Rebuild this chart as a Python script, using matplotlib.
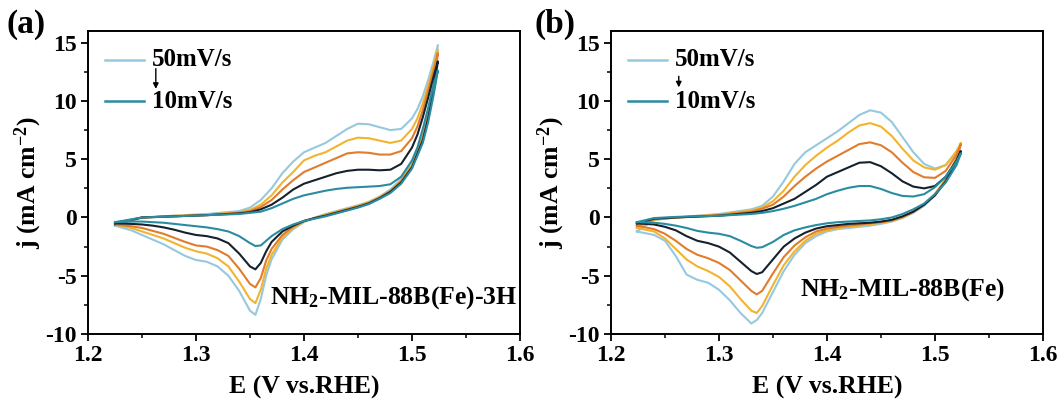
import numpy as np
import matplotlib
matplotlib.use("Agg")
import matplotlib.pyplot as plt

# ---- panel (a): NH2-MIL-88B(Fe)-3H ----
E_fwd_a = [1.225, 1.25, 1.28, 1.31, 1.34, 1.35, 1.36, 1.37, 1.38, 1.39, 1.40, 1.41, 1.42,
           1.43, 1.44, 1.45, 1.46, 1.47, 1.48, 1.49, 1.50, 1.505, 1.51, 1.515, 1.52, 1.524]
E_rev_a = [1.524, 1.52, 1.515, 1.51, 1.50, 1.49, 1.48, 1.47, 1.46, 1.45, 1.44, 1.43, 1.42,
           1.41, 1.40, 1.39, 1.38, 1.37, 1.365, 1.36, 1.355, 1.35, 1.34, 1.33, 1.32, 1.31,
           1.30, 1.29, 1.28, 1.27, 1.26, 1.25, 1.24, 1.225]

fwd_a = {
    "50": [-0.7, 0.0, 0.15, 0.3, 0.55, 0.85, 1.5, 2.5, 3.8, 4.8, 5.6, 6.0, 6.4, 7.0, 7.6, 8.05,
           8.0, 7.75, 7.5, 7.6, 8.5, 9.3, 10.4, 11.8, 13.4, 14.8],
    "40": [-0.6, 0.0, 0.15, 0.25, 0.45, 0.65, 1.1, 1.9, 3.0, 3.9, 4.9, 5.3, 5.6, 6.1, 6.6, 6.85,
           6.8, 6.6, 6.4, 6.6, 7.6, 8.5, 9.8, 11.3, 13.0, 14.4],
    "30": [-0.6, 0.0, 0.1, 0.2, 0.4, 0.55, 0.9, 1.5, 2.4, 3.2, 3.9, 4.3, 4.7, 5.1, 5.5, 5.6,
           5.55, 5.4, 5.4, 5.7, 6.8, 7.8, 9.2, 10.9, 12.6, 14.1],
    "20": [-0.5, 0.0, 0.1, 0.2, 0.35, 0.45, 0.7, 1.1, 1.7, 2.4, 2.9, 3.2, 3.5, 3.8, 4.0, 4.1,
           4.1, 4.05, 4.1, 4.6, 6.0, 7.1, 8.6, 10.3, 12.1, 13.4],
    "10": [-0.4, 0.0, 0.1, 0.2, 0.3, 0.4, 0.5, 0.8, 1.2, 1.6, 1.9, 2.1, 2.3, 2.45, 2.55, 2.6,
           2.65, 2.7, 2.85, 3.5, 4.9, 6.0, 7.6, 9.4, 11.4, 12.6],
}
rev_a = {
    "50": [14.8, 11.8, 9.0, 7.0, 4.6, 3.3, 2.4, 1.8, 1.35, 1.05, 0.8, 0.55, 0.3, 0.0, -0.4, -1.0,
           -1.9, -3.6, -5.0, -7.0, -8.35, -8.0, -6.3, -5.0, -4.2, -3.8, -3.65, -3.3, -2.8, -2.3,
           -1.9, -1.5, -1.1, -0.7],
    "40": [14.4, 11.6, 8.8, 6.9, 4.5, 3.2, 2.3, 1.75, 1.3, 1.0, 0.75, 0.5, 0.25, -0.05, -0.35,
           -0.9, -1.7, -3.2, -4.4, -6.2, -7.35, -7.0, -5.5, -4.2, -3.5, -3.1, -2.9, -2.6, -2.2,
           -1.8, -1.5, -1.2, -0.9, -0.6],
    "30": [14.1, 11.4, 8.7, 6.8, 4.4, 3.1, 2.25, 1.7, 1.25, 0.95, 0.7, 0.45, 0.2, -0.05, -0.3,
           -0.8, -1.5, -2.7, -3.7, -5.2, -6.0, -5.7, -4.4, -3.3, -2.8, -2.5, -2.4, -2.1, -1.75,
           -1.4, -1.15, -0.9, -0.75, -0.6],
    "20": [13.4, 11.0, 8.5, 6.6, 4.3, 3.0, 2.2, 1.65, 1.2, 0.9, 0.65, 0.4, 0.15, -0.05, -0.3,
           -0.7, -1.2, -2.1, -2.9, -3.9, -4.45, -4.2, -3.1, -2.2, -1.8, -1.6, -1.5, -1.3, -1.05,
           -0.85, -0.7, -0.6, -0.55, -0.5],
    "10": [12.6, 10.5, 8.2, 6.4, 4.2, 2.9, 2.1, 1.6, 1.15, 0.85, 0.6, 0.35, 0.1, -0.1, -0.3,
           -0.6, -1.0, -1.6, -2.0, -2.4, -2.45, -2.2, -1.6, -1.2, -1.0, -0.85, -0.75, -0.65,
           -0.55, -0.45, -0.4, -0.35, -0.35, -0.4],
}

# ---- panel (b): NH2-MIL-88B(Fe) ----
E_fwd_b = [1.224, 1.24, 1.26, 1.30, 1.33, 1.34, 1.35, 1.36, 1.37, 1.38, 1.39, 1.40, 1.41,
           1.42, 1.43, 1.44, 1.45, 1.46, 1.47, 1.48, 1.49, 1.50, 1.51, 1.52, 1.524]
E_rev_b = [1.524, 1.52, 1.51, 1.50, 1.49, 1.48, 1.47, 1.46, 1.45, 1.44, 1.43, 1.42, 1.41,
           1.40, 1.39, 1.38, 1.37, 1.36, 1.35, 1.34, 1.335, 1.33, 1.32, 1.31, 1.30, 1.29,
           1.28, 1.27, 1.26, 1.25, 1.24, 1.224]

fwd_b = {
    "50": [-1.2, -0.2, 0.0, 0.3, 0.7, 1.0, 1.8, 3.1, 4.6, 5.6, 6.2, 6.8, 7.4, 8.1, 8.8, 9.2,
           9.0, 8.2, 6.9, 5.6, 4.6, 4.2, 4.5, 5.6, 6.3],
    "40": [-0.9, -0.2, 0.0, 0.25, 0.6, 0.85, 1.4, 2.3, 3.5, 4.5, 5.3, 6.0, 6.6, 7.3, 7.9, 8.1,
           7.8, 7.0, 5.9, 4.9, 4.3, 4.1, 4.5, 5.7, 6.4],
    "30": [-0.7, -0.15, 0.0, 0.2, 0.5, 0.75, 1.1, 1.8, 2.7, 3.5, 4.2, 4.8, 5.3, 5.8, 6.3, 6.45,
           6.2, 5.6, 4.7, 3.9, 3.45, 3.4, 4.0, 5.4, 6.3],
    "20": [-0.5, -0.1, 0.0, 0.15, 0.4, 0.55, 0.8, 1.2, 1.6, 2.2, 2.8, 3.5, 3.9, 4.3, 4.7, 4.75,
           4.4, 3.8, 3.1, 2.65, 2.5, 2.7, 3.5, 4.9, 5.7],
    "10": [-0.4, -0.05, 0.05, 0.15, 0.3, 0.4, 0.55, 0.75, 1.0, 1.3, 1.6, 2.0, 2.3, 2.55, 2.7,
           2.7, 2.45, 2.1, 1.85, 1.8, 2.0, 2.6, 3.5, 4.8, 5.5],
}
rev_b = {
    "50": [6.3, 5.0, 3.2, 1.9, 1.0, 0.4, -0.05, -0.35, -0.55, -0.7, -0.8, -0.9, -1.0, -1.2,
           -1.6, -2.2, -3.2, -4.6, -6.4, -8.2, -8.8, -9.1, -8.2, -7.1, -6.2, -5.6, -5.35, -4.9,
           -3.3, -2.0, -1.5, -1.2],
    "40": [6.4, 5.1, 3.3, 2.0, 1.1, 0.45, 0.0, -0.3, -0.45, -0.6, -0.7, -0.8, -0.9, -1.1, -1.4,
           -2.0, -2.9, -4.1, -5.8, -7.6, -8.2, -8.0, -7.0, -5.9, -5.1, -4.6, -4.2, -3.6, -2.7,
           -1.8, -1.2, -0.9],
    "30": [6.3, 5.0, 3.2, 2.0, 1.1, 0.5, 0.05, -0.25, -0.4, -0.5, -0.6, -0.7, -0.8, -0.95,
           -1.2, -1.7, -2.4, -3.4, -4.8, -6.3, -6.6, -6.3, -5.4, -4.5, -3.9, -3.5, -3.2, -2.7,
           -2.0, -1.4, -1.0, -0.7],
    "20": [5.7, 4.7, 3.1, 1.9, 1.1, 0.5, 0.1, -0.2, -0.35, -0.45, -0.5, -0.55, -0.65, -0.75,
           -0.95, -1.3, -1.8, -2.5, -3.6, -4.7, -4.85, -4.6, -3.8, -3.0, -2.5, -2.2, -2.0, -1.6,
           -1.1, -0.8, -0.6, -0.5],
    "10": [5.5, 4.5, 3.0, 2.0, 1.2, 0.7, 0.3, 0.0, -0.15, -0.25, -0.3, -0.35, -0.4, -0.5, -0.65,
           -0.85, -1.1, -1.5, -2.1, -2.55, -2.6, -2.45, -2.0, -1.6, -1.4, -1.3, -1.15, -0.9,
           -0.7, -0.55, -0.45, -0.4],
}

rates = ["50", "40", "30", "20", "10"]
colors = {"50": "#96c8df", "40": "#f2b42e", "30": "#e07c2c", "20": "#15212d", "10": "#2a8ca0"}

plt.rcParams["font.family"] = ["Liberation Serif", "DejaVu Serif"]
plt.rcParams["font.weight"] = "bold"
plt.rcParams["axes.unicode_minus"] = False
plt.rcParams["mathtext.fontset"] = "custom"
plt.rcParams["mathtext.rm"] = "Liberation Serif:bold"
plt.rcParams["mathtext.it"] = "Liberation Serif:bold"
plt.rcParams["mathtext.bf"] = "Liberation Serif:bold"
plt.rcParams["mathtext.default"] = "rm"


def draw_panel(ax, E_fwd, E_rev, fwd, rev, name, name_xy, name_ha, arrow_y):
    for r in rates:
        E = list(E_fwd) + list(E_rev)
        j = list(fwd[r]) + list(rev[r])
        ax.plot(E, j, color=colors[r], lw=1.5, solid_joinstyle="round")

    ax.set_xlim(1.2, 1.6)
    ax.set_ylim(-10, 16)
    ax.set_xticks([1.2, 1.3, 1.4, 1.5, 1.6])
    ax.set_xticks(np.arange(1.25, 1.6, 0.1), minor=True)
    ax.set_yticks([-10, -5, 0, 5, 10, 15])
    ax.set_yticks([-7.5, -2.5, 2.5, 7.5, 12.5], minor=True)
    ax.tick_params(which="major", direction="out", length=5, width=1.3, labelsize=17, pad=3)
    ax.tick_params(which="minor", direction="out", length=3, width=1.1)
    for s in ax.spines.values():
        s.set_linewidth(1.4)
    ax.set_xlabel("E (V vs.RHE)", fontsize=18.5, fontweight="bold", labelpad=7)
    ax.set_ylabel("j (mA cm$^{-2}$)", fontsize=18.5, fontweight="bold", labelpad=1)

    # legend: first and last scan rate with an arrow between them
    for r, yy, lab in [("50", 0.905, "50mV/s"), ("10", 0.768, "10mV/s")]:
        ax.plot([0.04, 0.13], [yy, yy], color=colors[r], lw=1.8, transform=ax.transAxes)
        ax.text(0.148, yy, lab, transform=ax.transAxes, fontsize=18, fontweight="bold",
                va="center", ha="left")
    ax.annotate("", xy=(0.157, arrow_y[1]), xytext=(0.157, arrow_y[0]),
                xycoords="axes fraction",
                arrowprops=dict(arrowstyle="-|>", color="black", lw=1.0, mutation_scale=8))

    ax.text(name_xy[0], name_xy[1], name, transform=ax.transAxes, fontsize=18.5,
            fontweight="bold", ha=name_ha, va="center")


fig = plt.figure(figsize=(10.64, 4.05), dpi=100)
ax_a = fig.add_axes([0.0827, 0.1753, 0.406, 0.748])
ax_b = fig.add_axes([0.5742, 0.1753, 0.406, 0.748])

draw_panel(ax_a, E_fwd_a, E_rev_a, fwd_a, rev_a, "NH$_2$-MIL-88B(Fe)-3H",
           (0.995, 0.12), "right", (0.885, 0.80))
draw_panel(ax_b, E_fwd_b, E_rev_b, fwd_b, rev_b, "NH$_2$-MIL-88B(Fe)",
           (0.676, 0.148), "center", (0.86, 0.805))

fig.text(0.006, 0.94, "(a)", fontsize=24, fontweight="bold", ha="left", va="center")
fig.text(0.502, 0.94, "(b)", fontsize=24, fontweight="bold", ha="left", va="center")

fig.savefig("out.png", dpi=100)
